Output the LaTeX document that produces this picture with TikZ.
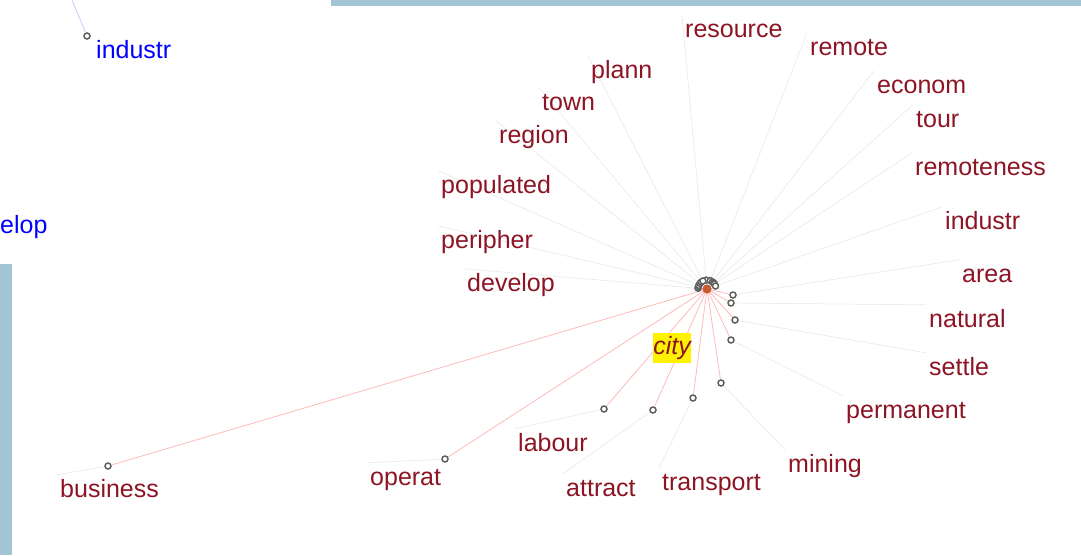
\documentclass[tikz,border=0pt]{standalone}
\usepackage{fontspec}
\setmainfont{Liberation Sans}
\usepackage{tikz}
\usetikzlibrary{calc,backgrounds}
\definecolor{wordred}{RGB}{140,20,35}
\definecolor{framebl}{RGB}{163,196,211}
\definecolor{hubcol}{RGB}{200,90,50}
\definecolor{spokegray}{RGB}{234,234,234}
\definecolor{spokered}{RGB}{255,185,185}
\tikzset{word node/.style={anchor=base west,inner xsep=3pt,inner ysep=0pt,text height=22pt,
		text depth=6pt,text=wordred,font=\fontsize{25}{28}\selectfont},
	dot node/.style={circle,draw=gray!75!black,fill=white,line width=1.5pt,inner sep=0pt,minimum size=6pt}
}

\begin{document}
\begin{tikzpicture}[x=1pt,y=-1pt,spoke/.style={spokegray,line width=0.7pt},
		hubline/.style={spokered,line width=0.8pt}]
	\useasboundingbox (0,0) rectangle (1081,555);
	\fill[framebl] (331,0) rectangle (1081,6);
	\fill[framebl] (0,264) rectangle (12,555);
	
	% panel behind
	\node[dot node] (oldind) at (87,36) {};
	\coordinate (oldtop) at (72,0);
	\draw[blue!22,line width=0.8pt] (oldtop) -- (oldind);
	\node[word node,text=blue] (oldindw) at (93,58) {industr};
	\node[word node,text=blue,inner xsep=0pt] (oldelop) at (0,233) {elop};
	
	\node[circle,fill=hubcol,inner sep=0pt,minimum size=9pt] (hub) at (707,289) {};
	
	\foreach \w/\x/\y in {resource/682/37, remote/807/55, econom/874/93, tour/913/127,
		remoteness/912/175, industr/942/229, develop/464/291, peripher/438/248,
		populated/438/193, region/496/143, town/539/110, plann/588/78}
	{
		\node[word node] (\w) at (\x,\y) {\w};
		\node[dot node] (d-\w) at ($(hub)!9pt!(\w.north west)$) {};
		\begin{pgfonlayer}{background}
			\draw[spoke] (d-\w) -- (\w.north west);
		\end{pgfonlayer}
	}
	
	\foreach \w/\x/\y/\dx/\dy in {area/959/282/733/295, natural/926/327/731/303,
		settle/926/375/735/320, permanent/843/418/731/340, mining/785/472/721/383,
		transport/659/490/693/398, attract/563/496/653/410, labour/515/451/604/409,
		operat/367/485/445/459, business/57/497/108/466}
	{
		\node[word node] (\w) at (\x,\y) {\w};
		\node[dot node] (d-\w) at (\dx,\dy) {};
		\begin{pgfonlayer}{background}
			\draw[spoke] (d-\w) -- (\w.north west);
			\draw[hubline] (hub) -- (d-\w);
		\end{pgfonlayer}
	}
	
	\node[circle,fill=hubcol,inner sep=0pt,minimum size=9pt] at (hub) {};
	\node[fill=yellow,text=wordred,font=\fontsize{25}{28}\selectfont\itshape,inner sep=0pt,
		minimum height=30pt,minimum width=37pt] (city) at (672,348) {city};
\end{tikzpicture}
\end{document}
